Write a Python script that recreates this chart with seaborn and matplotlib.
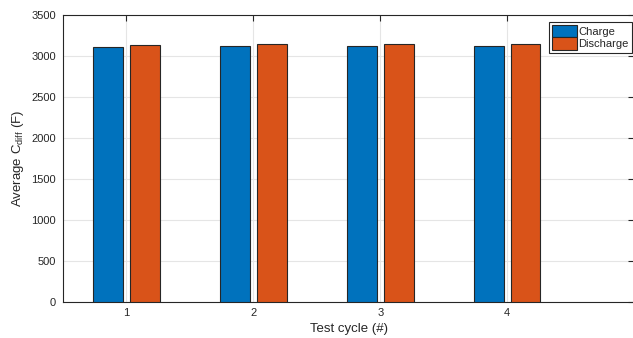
import matplotlib
matplotlib.use("Agg")
import matplotlib.pyplot as plt
import seaborn as sns
import pandas as pd

# Average differential capacitance per test cycle
cycles = ["1", "2", "3", "4"]
charge = [3112, 3120, 3124, 3124]
discharge = [3133, 3141, 3141, 3149]
series = ["Charge", "Discharge"]
colors = ["#0072BD", "#D95319"]

df = pd.DataFrame({
    "cycle": cycles * 2,
    "value": charge + discharge,
    "phase": [series[0]] * len(cycles) + [series[1]] * len(cycles),
})

sns.set_theme(style="white")
plt.rcParams["font.family"] = ["Liberation Sans", "DejaVu Sans"]
plt.rcParams["mathtext.fontset"] = "custom"
plt.rcParams["mathtext.rm"] = "Liberation Sans"
plt.rcParams["mathtext.it"] = "Liberation Sans"

fig = plt.figure(figsize=(6.33, 3.38), dpi=100)
ax = fig.add_axes([63 / 633, (338 - 301.5) / 338, (634 - 63) / 633, (301.5 - 15) / 338])

sns.barplot(data=df, x="cycle", y="value", hue="phase", palette=colors,
            saturation=1, width=0.58, gap=0.186, edgecolor="#262626",
            linewidth=0.8, ax=ax, zorder=3)

ax.set_xlim(-0.5, 4.0)
ax.set_ylim(0, 3500)
ax.set_yticks(range(0, 3501, 500))
ax.set_xlabel("Test cycle (#)", fontsize=9.5, color="#262626", labelpad=3)
ax.set_ylabel("Average C$_{\\mathrm{diff}}$ (F)", fontsize=9.5, color="#262626", labelpad=4)

ax.grid(True, color="#E5E5E5", linewidth=0.8, zorder=0)
ax.set_axisbelow(True)
ax.tick_params(axis="both", direction="in", length=4, width=0.8, colors="#262626",
               labelsize=8, top=True, right=True, pad=5)
for s in ax.spines.values():
    s.set_color("#262626")
    s.set_linewidth(0.8)
    s.set_visible(True)
ax.spines["right"].set_visible(False)

leg = ax.legend(loc="upper right", bbox_to_anchor=(632 / 633, 1 - 21.5 / 338),
                bbox_transform=fig.transFigure, fontsize=8, frameon=True,
                fancybox=False, edgecolor="#262626", framealpha=1, borderpad=0.3,
                handlelength=2.2, handleheight=1.35, handletextpad=0.15,
                labelspacing=0.0, borderaxespad=0, title=None)
leg.get_frame().set_linewidth(0.8)

fig.savefig("out.png", dpi=100)
